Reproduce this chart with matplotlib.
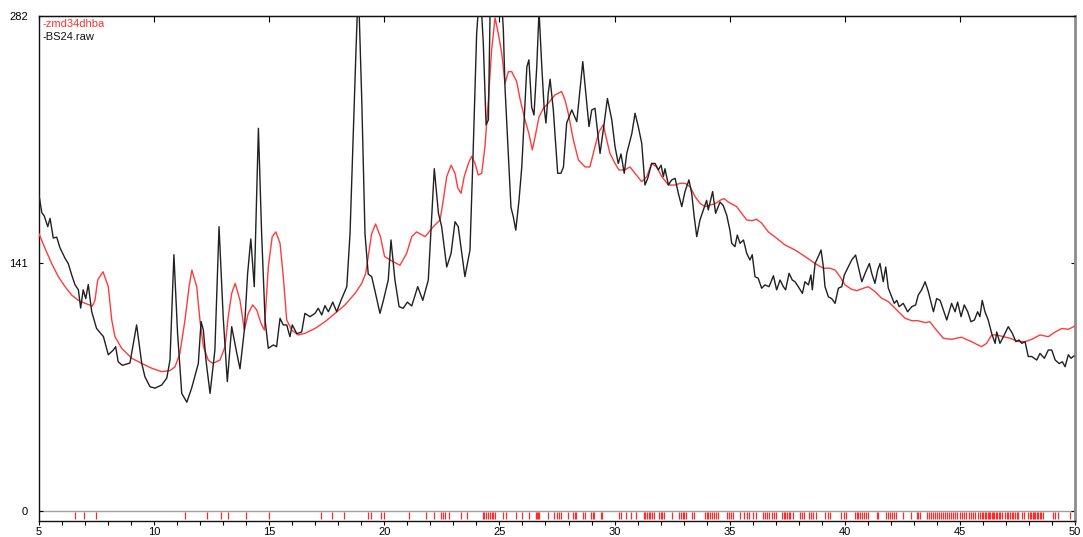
import matplotlib
matplotlib.use("Agg")
import matplotlib.pyplot as plt
from matplotlib.ticker import MultipleLocator

plt.rcParams['font.family'] = ['Liberation Sans', 'DejaVu Sans']
plt.rcParams['font.size'] = 8

# measured pattern BS24.raw (2theta, counts)
raw_x = [5.0, 5.12, 5.23, 5.38, 5.48, 5.62, 5.77, 5.91, 6.13, 6.27, 6.42, 6.56, 6.71, 6.81, 6.92,
         7.03, 7.14, 7.29, 7.5, 7.8, 8.01, 8.23, 8.33, 8.44, 8.62, 8.95, 9.24, 9.46, 9.6, 9.82,
         10.04, 10.33, 10.55, 10.69, 10.86, 11.02, 11.2, 11.42, 11.63, 11.92, 12.04, 12.14, 12.26,
         12.43, 12.64, 12.82, 13.0, 13.18, 13.37, 13.59, 13.73, 13.92, 14.06, 14.2, 14.35, 14.53,
         14.67, 14.82, 14.96, 15.18, 15.32, 15.47, 15.61, 15.76, 15.9, 16.0, 16.2, 16.41, 16.55,
         16.77, 16.99, 17.13, 17.28, 17.42, 17.57, 17.76, 17.93, 18.15, 18.37, 18.51, 18.65, 18.77,
         18.87, 19.02, 19.16, 19.3, 19.45, 19.6, 19.81, 19.96, 20.17, 20.29, 20.46, 20.64, 20.82,
         21.0, 21.19, 21.45, 21.67, 21.91, 22.17, 22.35, 22.49, 22.71, 22.9, 23.07, 23.21, 23.5,
         23.72, 23.86, 24.01, 24.16, 24.3, 24.42, 24.52, 24.6, 24.75, 24.95, 25.1, 25.17, 25.24,
         25.39, 25.5, 25.6, 25.71, 25.85, 25.97, 26.08, 26.19, 26.28, 26.4, 26.5, 26.62, 26.72,
         26.84, 26.94, 27.02, 27.12, 27.2, 27.34, 27.53, 27.67, 27.78, 27.92, 28.14, 28.36, 28.5,
         28.62, 28.75, 28.89, 29.01, 29.15, 29.27, 29.37, 29.51, 29.69, 29.88, 30.02, 30.16, 30.28,
         30.42, 30.53, 30.75, 30.89, 31.03, 31.18, 31.32, 31.44, 31.61, 31.76, 31.9, 32.02, 32.12,
         32.19, 32.34, 32.48, 32.63, 32.77, 32.92, 33.06, 33.23, 33.35, 33.46, 33.57, 33.71, 33.86,
         34.0, 34.07, 34.26, 34.39, 34.58, 34.72, 34.87, 35.01, 35.09, 35.23, 35.33, 35.45, 35.6,
         35.74, 35.88, 35.98, 36.1, 36.24, 36.39, 36.53, 36.71, 36.9, 37.04, 37.19, 37.33, 37.43,
         37.58, 37.72, 37.84, 37.98, 38.16, 38.27, 38.42, 38.53, 38.59, 38.71, 38.85, 38.97, 39.07,
         39.14, 39.29, 39.43, 39.58, 39.72, 39.87, 39.98, 40.15, 40.3, 40.47, 40.59, 40.74, 40.91,
         41.07, 41.17, 41.31, 41.43, 41.53, 41.67, 41.78, 41.89, 42.04, 42.15, 42.26, 42.36, 42.54,
         42.73, 42.91, 43.08, 43.19, 43.34, 43.49, 43.63, 43.85, 43.99, 44.14, 44.28, 44.43, 44.64,
         44.79, 44.9, 45.05, 45.19, 45.34, 45.48, 45.63, 45.77, 45.87, 45.97, 46.09, 46.23, 46.38,
         46.53, 46.6, 46.74, 46.89, 47.1, 47.28, 47.43, 47.57, 47.69, 47.83, 47.97, 48.12, 48.34,
         48.48, 48.67, 48.84, 48.99, 49.14, 49.31, 49.45, 49.57, 49.71, 49.83, 49.95]
raw_y = [180, 170, 168, 162, 166.7, 155.5, 156, 150, 144, 141, 134.5, 129, 126, 115.6, 126,
         121, 129, 113.5, 104, 99.3, 89, 91.7, 93.6, 85, 83, 84.3, 106, 84.3, 76.5, 70.8,
         70, 71.8, 75.7, 86, 146, 101, 67, 62, 70, 84, 108, 103, 85,
         67, 91.7, 162, 110.7, 73.7, 105, 90, 81, 103, 135, 155, 127.8, 218,
         158, 108.8, 92.7, 94.6, 93.6, 109.8, 106, 106, 99.3, 106, 101, 102, 112.6,
         110.7, 112.6, 115.5, 111.7, 117, 113.5, 119, 113.5, 121, 127.8, 158, 215, 263,
         300, 234, 158, 135, 133.5, 125, 112.6, 120, 131.6, 154.4, 131.6, 116.4, 115.5,
         119, 116.8, 127.8, 120, 131.6, 195, 169.6, 162, 139, 146.8, 164.8, 162, 133.5,
         148.7, 205.7, 272, 300, 266, 220, 222.8, 290, 300, 300, 290, 274, 241.7,
         202, 173, 167.7, 160, 177, 196, 224.6, 253, 257, 230, 225.6, 253, 285,
         253, 230, 221, 238, 246, 228.5, 192.4, 192.4, 196, 221, 228.5, 221.8, 240,
         256, 238, 219, 228.5, 229.4, 215, 203.7, 217, 235, 222.8, 207.6, 198, 203.4,
         192.4, 203.7, 215, 226.6, 219, 209.5, 185.7, 189.5, 198, 198, 194.3, 197, 190.5,
         195, 185.7, 188.6, 189.5, 181, 173.4, 182, 188.6, 181, 167.7, 156.3, 165.8, 171.5,
         177, 171.5, 182, 169.6, 176, 174, 168.6, 160, 152.5, 150.6, 157.2, 152.5, 154.4,
         146.8, 143, 146, 133.5, 132.6, 126.9, 128.8, 127.8, 134, 126, 131.6, 127.8, 126,
         135.4, 131.6, 130.6, 127.8, 124, 130.6, 128.8, 134.5, 126, 141, 145, 148.7, 139,
         127.8, 122, 121, 118.3, 126.9, 127.8, 134.5, 139, 143, 145.8, 139, 130.6, 136.3,
         141, 135.4, 129.7, 137.3, 141, 130.6, 139, 127, 122, 118.3, 120, 116.4, 118.3,
         113.5, 116.4, 117.4, 123, 126, 130.6, 125, 113.5, 121, 120, 114.5, 108.8, 118.3,
         113.5, 119, 110.7, 117.4, 113.5, 107.8, 108.8, 113.5, 110.7, 120, 113.5, 108.8, 101.2,
         95.5, 102, 95.5, 99.3, 105, 101.2, 96.5, 97.4, 95.5, 96.5, 88, 88, 86,
         89.8, 87, 91.7, 91.7, 86, 84, 85, 82.2, 89, 87, 88.3]

# calculated pattern zmd34dhba
calc_x = [5.0, 5.26, 5.55, 5.84, 6.13, 6.42, 6.71, 7.0, 7.32, 7.43, 7.55, 7.78, 8.01, 8.16, 8.3,
          8.59, 9.03, 9.46, 9.9, 10.33, 10.69, 10.91, 11.12, 11.34, 11.52, 11.64, 11.85, 11.99,
          12.14, 12.35, 12.55, 12.86, 13.08, 13.22, 13.37, 13.52, 13.73, 13.92, 14.09, 14.28, 14.46,
          14.64, 14.79, 14.96, 15.13, 15.29, 15.47, 15.61, 15.76, 15.98, 16.26, 16.55, 16.99, 17.42,
          17.86, 18.29, 18.73, 19.02, 19.19, 19.3, 19.45, 19.62, 19.83, 20.01, 20.25, 20.68, 20.97,
          21.19, 21.4, 21.77, 22.13, 22.42, 22.56, 22.71, 22.9, 23.07, 23.19, 23.33, 23.47, 23.65,
          23.79, 23.94, 24.08, 24.23, 24.37, 24.52, 24.66, 24.81, 24.95, 25.1, 25.24, 25.39, 25.53,
          25.75, 25.89, 26.11, 26.28, 26.43, 26.55, 26.72, 26.91, 27.12, 27.41, 27.7, 27.85, 27.99,
          28.21, 28.43, 28.72, 28.93, 29.15, 29.32, 29.51, 29.66, 29.8, 30.02, 30.19, 30.45, 30.67,
          30.89, 31.18, 31.4, 31.61, 31.83, 32.05, 32.34, 32.63, 32.85, 33.06, 33.28, 33.5, 33.71,
          33.93, 34.15, 34.36, 34.58, 34.76, 34.94, 35.3, 35.52, 35.74, 35.96, 36.17, 36.39, 36.68,
          37.04, 37.4, 37.84, 38.27, 38.71, 39.07, 39.36, 39.58, 39.79, 40.01, 40.3, 40.52, 40.81,
          41.02, 41.31, 41.6, 41.89, 42.18, 42.33, 42.62, 42.91, 43.19, 43.49, 43.7, 43.92, 44.28,
          44.64, 45.07, 45.5, 45.94, 46.16, 46.38, 46.6, 46.89, 47.18, 47.54, 47.83, 48.12, 48.48,
          48.84, 49.14, 49.43, 49.71, 50.0]
calc_y = [158, 149.7, 141, 133.5, 127.8, 123, 120, 118.3, 116.8, 120, 131.6, 136.3, 127.8, 108.8, 99.3,
          92.7, 87, 84.1, 81.3, 79.4, 80, 82.2, 89.8, 108.8, 127.8, 137.3, 127.8, 108.8,
          93.6, 86, 84.1, 86, 93.6, 110.7, 124, 129.7, 120, 103, 112.6, 117.4, 114.5,
          107, 103, 139, 156.3, 159, 152.5, 133.5, 108.8, 103, 100.3, 101.2, 104, 107.8,
          112.6, 117.4, 124, 129.7, 135.4, 145, 158, 163.5, 156.3, 145, 143, 140, 146.8,
          156.3, 159, 156.3, 162, 165.8, 177, 190.5, 197, 192.4, 184, 181, 190.5, 198,
          202, 198, 191.4, 192.4, 207.6, 234, 262.6, 281, 272, 260.8, 243.6, 250.3, 250.3,
          244.6, 235, 222.8, 215, 205.7, 213.3, 224.6, 229.4, 232.3, 237, 239, 234, 226.6,
          211.4, 200, 196, 196, 207.6, 216, 220, 211.4, 203.7, 198, 194.3, 194.3, 196,
          192.4, 187.6, 190.5, 198, 196, 190.5, 185.7, 185.7, 186.7, 186.7, 184.8, 179, 175.3,
          173.4, 174.3, 175, 177, 178, 176, 173.4, 169.6, 165.8, 165.4, 166.2, 164, 159,
          155.4, 151.6, 148.7, 145, 141, 138.3, 138.3, 137.3, 133.5, 128.8, 126.3, 125.5, 126.9,
          127.8, 125, 121.2, 119.3, 115.5, 113.5, 109.8, 108.4, 108.4, 107.3, 107.8, 104, 98.4,
          97.8, 99, 96.5, 93.6, 95.5, 100.3, 100.3, 99.3, 98.4, 96.5, 96.5, 97.8, 100.3,
          99.3, 102, 104, 103.5, 105.4]

# reflection positions of zmd34dhba
refl_pos = [6.58, 6.97, 7.48, 11.34, 12.28, 12.9, 13.2, 13.99, 15.0, 17.25, 17.73, 18.26,
            19.31, 19.42, 19.87, 19.99, 21.06, 21.8, 22.17, 22.46, 22.56, 22.65, 22.8, 23.35, 23.61,
            24.27, 24.33, 24.42, 24.5, 24.59, 24.67, 24.73, 24.8, 25.14, 25.29, 25.71, 25.97, 26.3,
            26.58, 26.63, 26.68, 26.73, 27.12, 27.38, 27.48, 27.58, 27.69, 27.98, 28.21, 28.28, 28.34,
            28.65, 28.73, 28.99, 29.07, 29.12, 29.4, 29.47, 30.2, 30.28, 30.49, 30.7, 30.95,
            31.27, 31.34, 31.4, 31.49, 31.56, 31.63, 31.7, 31.93, 32.01, 32.08, 32.16, 32.5,
            32.82, 32.89, 32.96, 33.03, 33.1, 33.35, 33.45, 33.94, 34.01, 34.08, 34.16, 34.24,
            34.33, 34.41, 34.5, 34.9, 34.99, 35.07, 35.16, 35.45, 35.62, 35.74, 35.83, 36.03, 36.15,
            36.46, 36.55, 36.64, 36.72, 36.82, 36.92, 37.02, 37.28, 37.35, 37.42, 37.5, 37.57, 37.64,
            37.74, 38.06, 38.15, 38.23, 38.43, 38.53, 38.64, 38.74, 39.16, 39.25, 39.36, 39.83, 39.98,
            40.06, 40.43, 40.52, 40.59, 40.68, 40.76, 40.85, 40.94, 41.03, 41.39, 41.46, 41.79, 41.88,
            41.97, 42.05, 42.14, 42.23, 42.55, 42.87, 43.13, 43.2, 43.27, 43.56, 43.65, 43.73, 43.82,
            43.91, 43.99, 44.08, 44.17, 44.25, 44.34, 44.43, 44.51, 44.6, 44.69, 44.77, 44.86, 45.0,
            45.09, 45.18, 45.27, 45.38, 45.47, 45.56, 45.65, 45.8, 45.88, 45.95, 46.02, 46.08, 46.14,
            46.2, 46.26, 46.32, 46.38, 46.44, 46.5, 46.56, 46.62, 46.68, 46.74, 46.82, 46.96, 47.03,
            47.1, 47.18, 47.25, 47.32, 47.39, 47.47, 47.54, 47.69, 47.79, 47.98, 48.04, 48.1, 48.16,
            48.22, 48.28, 48.34, 48.4, 48.47, 48.53, 48.6, 49.03, 49.15, 49.26, 49.79]

x_ticks = [5, 10, 15, 20, 25, 30, 35, 40, 45, 50]
y_ticks = [0, 141, 282]

fig = plt.figure(figsize=(10.83, 5.37), dpi=100)
ax = fig.add_axes([39 / 1083, 16 / 537, 1036 / 1083, 505 / 537])

ax.axhline(0, color='#a0a0a0', lw=1.0, zorder=1)
ax.vlines(refl_pos, -4.7, -0.8, colors='#ff2a2a', lw=0.9, zorder=2)
ax.plot(calc_x, calc_y, color='#ff3b3b', lw=1.0, zorder=3)
ax.plot(raw_x, raw_y, color='#202020', lw=1.0, zorder=4)

ax.set_xlim(5, 50)
ax.set_ylim(-5.7, 282)

# bottom axis: labelled every 5, minor every 1, ticks outward
ax.set_xticks(x_ticks)
ax.xaxis.set_minor_locator(MultipleLocator(1))
ax.tick_params(axis='x', which='both', direction='out', length=3, width=0.8, pad=1,
               labelsize=8, top=False)
ax.set_yticks(y_ticks)
ax.tick_params(axis='y', direction='in', length=3, width=0.8, pad=8, labelsize=8, right=True)

# top axis: inward ticks only
top = ax.secondary_xaxis('top')
top.set_xticks(x_ticks)
top.tick_params(direction='in', length=4, width=0.8, labeltop=False)
top.spines['top'].set_color('#111111')

for side in ['left', 'bottom', 'top']:
    ax.spines[side].set_color('#111111')
    ax.spines[side].set_linewidth(1.0)
ax.spines['right'].set_color('#8c8c8c')
ax.spines['right'].set_linewidth(2.0)

ax.text(0.003, 0.984, '-zmd34dhba', color='#ff3030', transform=ax.transAxes,
        fontsize=8, va='center', ha='left')
ax.text(0.003, 0.958, '-BS24.raw', color='#111111', transform=ax.transAxes,
        fontsize=8, va='center', ha='left')

fig.savefig('out.png', dpi=100)
